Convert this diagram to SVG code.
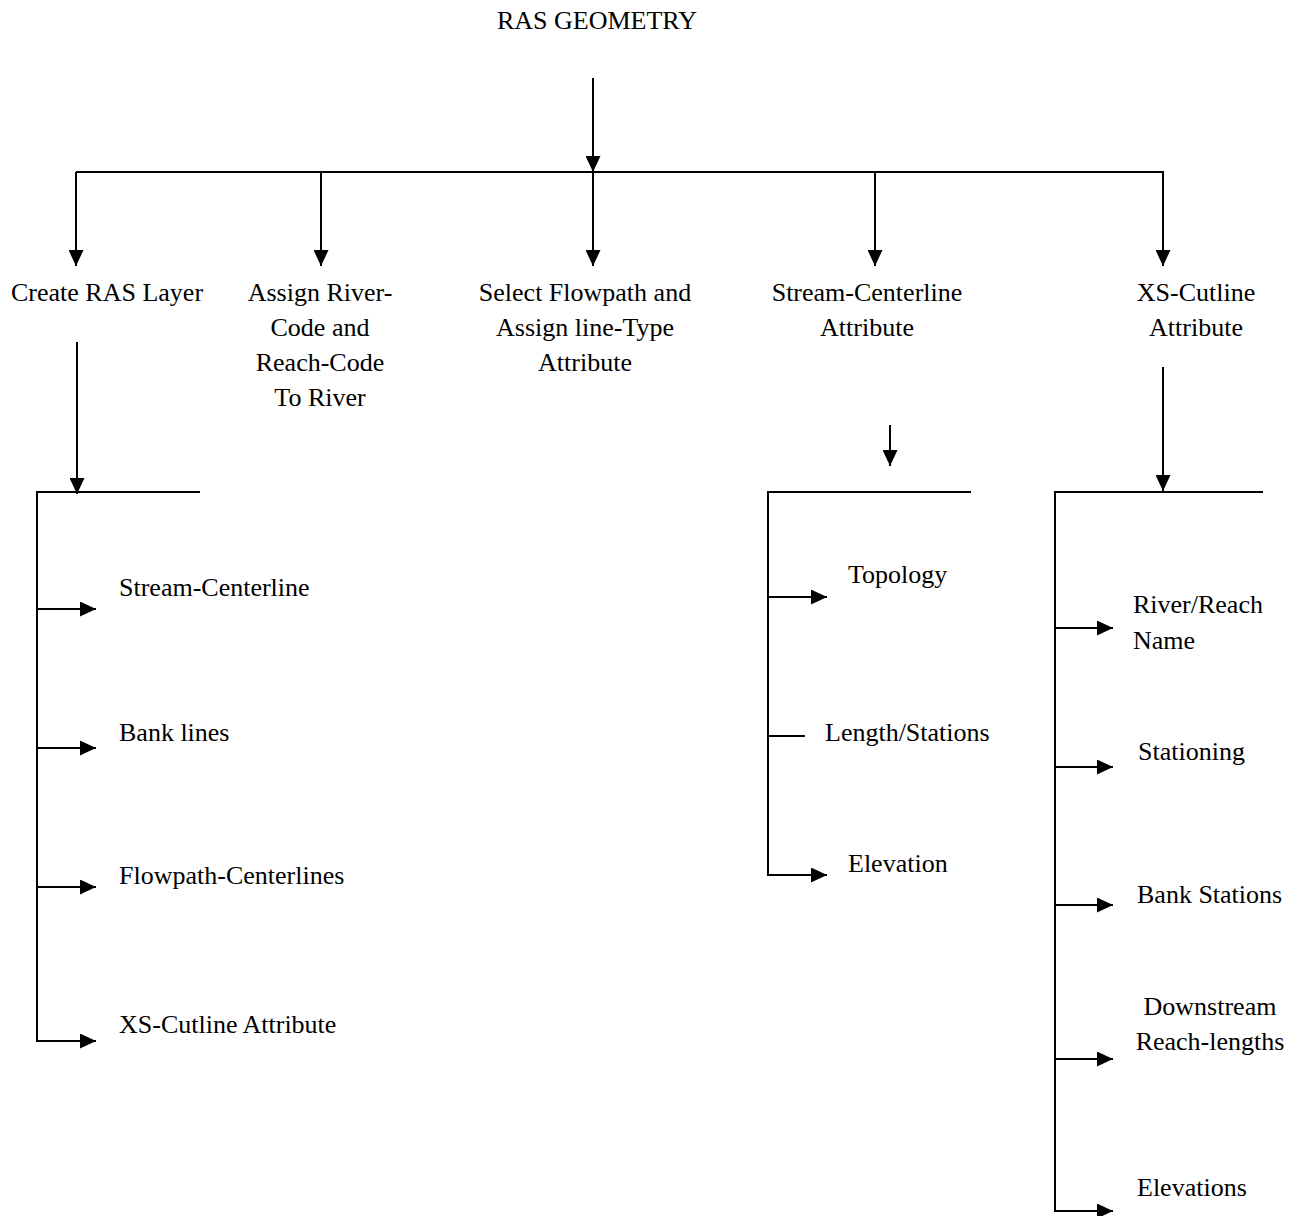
<svg xmlns="http://www.w3.org/2000/svg" width="1300" height="1216" viewBox="0 0 1300 1216">
<style>
text{font-family:"Liberation Serif","Times New Roman",serif;font-size:26px;fill:#000}
.c{text-anchor:middle}
.ln{stroke:#000;stroke-width:2;fill:none}
.ar{stroke:#000;stroke-width:2;fill:none;marker-end:url(#ah)}
</style>
<defs>
<marker id="ah" markerUnits="userSpaceOnUse" markerWidth="16" markerHeight="15" refX="16" refY="7.5" orient="auto">
<path d="M0,0 L16,7.5 L0,15 z" fill="#000"/>
</marker>
</defs>
<rect width="1300" height="1216" fill="#fff"/>
<g id="connectors">
<line class="ar" x1="593" y1="78" x2="593" y2="172"/>
<line class="ln" x1="76" y1="172" x2="1164" y2="172"/>
<line class="ar" x1="76" y1="172" x2="76" y2="266"/>
<line class="ar" x1="321" y1="172" x2="321" y2="266"/>
<line class="ar" x1="593" y1="172" x2="593" y2="266"/>
<line class="ar" x1="875" y1="172" x2="875" y2="266"/>
<line class="ar" x1="1163" y1="172" x2="1163" y2="266"/>
<line class="ar" x1="77" y1="342" x2="77" y2="494"/>
<line class="ln" x1="37" y1="492" x2="200" y2="492"/>
<line class="ln" x1="37" y1="491" x2="37" y2="1042"/>
<line class="ar" x1="37" y1="609" x2="96" y2="609"/>
<line class="ar" x1="37" y1="748" x2="96" y2="748"/>
<line class="ar" x1="37" y1="887" x2="96" y2="887"/>
<line class="ar" x1="36" y1="1041" x2="96" y2="1041"/>
<line class="ar" x1="890" y1="425" x2="890" y2="466"/>
<line class="ln" x1="768" y1="492" x2="971" y2="492"/>
<line class="ln" x1="768" y1="491" x2="768" y2="876"/>
<line class="ar" x1="768" y1="597" x2="827" y2="597"/>
<line class="ln" x1="768" y1="736" x2="805" y2="736"/>
<line class="ar" x1="767" y1="875" x2="827" y2="875"/>
<line class="ar" x1="1163" y1="367" x2="1163" y2="491"/>
<line class="ln" x1="1056" y1="492" x2="1263" y2="492"/>
<line class="ln" x1="1055" y1="491" x2="1055" y2="1212"/>
<line class="ar" x1="1055" y1="628" x2="1113" y2="628"/>
<line class="ar" x1="1055" y1="767" x2="1113" y2="767"/>
<line class="ar" x1="1055" y1="905" x2="1113" y2="905"/>
<line class="ar" x1="1055" y1="1059" x2="1113" y2="1059"/>
<line class="ar" x1="1054" y1="1211" x2="1113" y2="1211"/>
</g>
<g id="n-root"><text class="c" x="597" y="29">RAS GEOMETRY</text></g>
<g id="n-create"><text x="11" y="301">Create RAS Layer</text></g>
<g id="n-assign"><text class="c" x="320" y="301">Assign River-</text><text class="c" x="320" y="336">Code and</text><text class="c" x="320" y="371">Reach-Code</text><text class="c" x="320" y="406">To River</text></g>
<g id="n-select"><text class="c" x="585" y="301">Select Flowpath and</text><text class="c" x="585" y="336">Assign line-Type</text><text class="c" x="585" y="371">Attribute</text></g>
<g id="n-scl"><text class="c" x="867" y="301">Stream-Centerline</text><text class="c" x="867" y="336">Attribute</text></g>
<g id="n-xs"><text class="c" x="1196" y="301">XS-Cutline</text><text class="c" x="1196" y="336">Attribute</text></g>
<g id="n-l1"><text x="119" y="596">Stream-Centerline</text></g>
<g id="n-l2"><text x="119" y="741">Bank lines</text></g>
<g id="n-l3"><text x="119" y="884">Flowpath-Centerlines</text></g>
<g id="n-l4"><text x="119" y="1033">XS-Cutline Attribute</text></g>
<g id="n-m1"><text x="848" y="583">Topology</text></g>
<g id="n-m2"><text x="825" y="741">Length/Stations</text></g>
<g id="n-m3"><text x="848" y="872">Elevation</text></g>
<g id="n-r1"><text x="1133" y="613">River/Reach</text><text x="1133" y="649">Name</text></g>
<g id="n-r2"><text x="1138" y="760">Stationing</text></g>
<g id="n-r3"><text x="1137" y="903">Bank Stations</text></g>
<g id="n-r4"><text class="c" x="1210" y="1015">Downstream</text><text class="c" x="1210" y="1050">Reach-lengths</text></g>
<g id="n-r5"><text x="1137" y="1196">Elevations</text></g>
</svg>
